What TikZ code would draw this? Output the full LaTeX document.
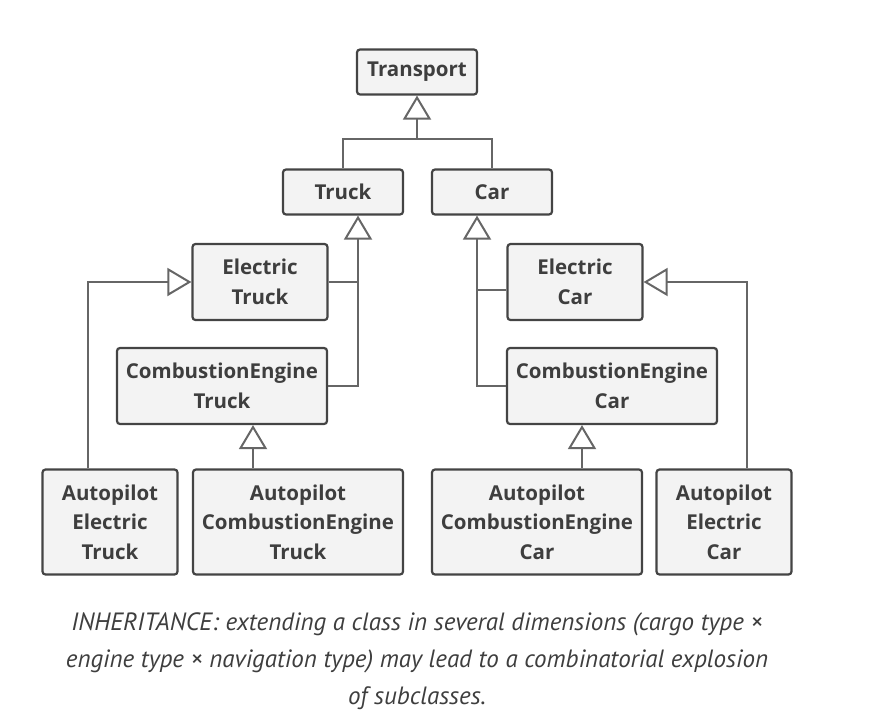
\documentclass[tikz,border=0pt]{standalone}
\usepackage{fontspec}
\setmainfont{Open Sans}
\newfontfamily\captionfont{PT Sans}
\usepackage{xcolor}
\usetikzlibrary{arrows.meta,calc}
\definecolor{boxfill}{HTML}{F3F3F3}
\definecolor{boxline}{HTML}{444444}
\definecolor{linkline}{HTML}{666666}
\definecolor{textgray}{HTML}{3E3E3E}

\begin{document}
\begin{tikzpicture}[x=1pt, y=-1pt,
  cls/.style={draw=boxline, fill=boxfill, line width=2.2pt, rounded corners=3pt, inner sep=0pt,
    font=\fontsize{20.5}{29.5}\selectfont\bfseries, text=textgray, align=center},
  small/.style={cls, minimum width=120pt, minimum height=45pt},
  mid/.style={cls, minimum width=135pt, minimum height=76pt},
  wide/.style={cls, minimum width=210pt, minimum height=76pt},
  midtall/.style={cls, minimum width=135pt, minimum height=105pt},
  widetall/.style={cls, minimum width=210pt, minimum height=105pt},
  link/.style={draw=linkline, line width=2pt},
  inherit/.style={link, -{Triangle[open, length=24pt 0 0, width=28pt 0 0]}}]
  \useasboundingbox (0,0) rectangle (874,723);
  \node[small] (transport) at (417,72) {Transport};
  \node[small] (truck) at (343,192) {Truck};
  \node[small] (car) at (492,192) {Car};
  \node[mid] (etruck) at (260,282) {Electric\\Truck};
  \node[wide] (cetruck) at (222,386) {CombustionEngine\\Truck};
  \node[mid] (ecar) at (575,282) {Electric\\Car};
  \node[wide] (cecar) at (612,386) {CombustionEngine\\Car};
  \node[midtall] (apetruck) at (110,522) {Autopilot\\Electric\\Truck};
  \node[widetall] (apcetruck) at (298,522) {Autopilot\\CombustionEngine\\Truck};
  \node[widetall] (apcecar) at (537,522) {Autopilot\\CombustionEngine\\Car};
  \node[midtall] (apecar) at (724,522) {Autopilot\\Electric\\Car};
  \coordinate (tj) at (417,139);
  \coordinate (tkbus) at (358,0);
  \coordinate (cbus) at (477,0);
  \coordinate (ecj) at (477,290);
  \coordinate (apet) at (88,0);
  \coordinate (apcet) at (253,0);
  \coordinate (apcec) at (582,0);
  \coordinate (apec) at (747,0);
  \draw[link] (truck.north) |- (tj) -| (car.north);
  \draw[inherit] (tj) -- (transport.south);
  \draw[inherit] (cetruck.east) -| (truck.south -| tkbus);
  \draw[link] (etruck.east) -- (etruck.east -| tkbus);
  \draw[inherit] (cecar.west) -| (car.south -| cbus);
  \draw[link] (ecj) -- (ecj -| ecar.west);
  \draw[inherit] (apetruck.north -| apet) |- (etruck.west);
  \draw[inherit] (apcetruck.north -| apcet) -- (cetruck.south -| apcet);
  \draw[inherit] (apcecar.north -| apcec) -- (cecar.south -| apcec);
  \draw[inherit] (apecar.north -| apec) |- (ecar.east);
  \node[font=\captionfont\itshape\fontsize{25}{37}\selectfont, text=textgray, align=center] (caption) at (417,661)
    {INHERITANCE: extending a class in several dimensions (cargo type ×\\engine type × navigation type) may lead to a combinatorial explosion\\of subclasses.};
\end{tikzpicture}
\end{document}
